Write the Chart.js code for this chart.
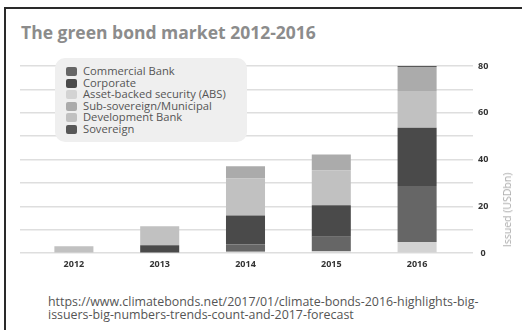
<!DOCTYPE html>
<html>
<head>
<meta charset="utf-8">
<script src="https://cdn.jsdelivr.net/npm/chart.js@4.4.1/dist/chart.umd.min.js"></script>
<style>
    body { margin: 0; width: 522px; height: 330px; background: #fff; overflow: hidden; font-family: "Open Sans", sans-serif; position: relative; }
    .frame { position: absolute; left: 4px; top: 7px; width: 600px; height: 400px; border-left: 2px solid #2a2a2a; border-top: 2px solid #2a2a2a; }
    .title { position: absolute; left: 21px; top: 20px; font-size: 17.5px; font-weight: 700; color: #8c8c8c; white-space: nowrap; }
    #chart-box { position: absolute; left: 0; top: 45px; width: 522px; height: 235px; }
    .legend { position: absolute; left: 55px; top: 58px; width: 192px; height: 84px; background: #efefef; border-radius: 10px; padding: 7px 0 0 11px; box-sizing: border-box; }
    .legend-item { height: 11.6px; line-height: 11.6px; font-size: 11.2px; color: #555; white-space: nowrap; }
    .legend-item span { display: inline-block; width: 11px; height: 9px; border-radius: 2px; margin-right: 6px; vertical-align: -1px; }
    .axis-title { position: absolute; left: 507px; top: 210px; transform: translate(-50%, -50%) rotate(-90deg); font-size: 10.5px; color: #a8a8a8; white-space: nowrap; }
    .source { position: absolute; left: 48px; top: 296px; font-size: 12.4px; line-height: 12.5px; color: #555; white-space: nowrap; }
</style>
</head>
<body>
<div class="frame"></div>
<div class="title">The green bond market 2012-2016</div>
<div id="chart-box"><canvas id="myChart"></canvas></div>
<div class="legend" id="legend"></div>
<div class="axis-title">Issued (USDbn)</div>
<div class="source">https://www.climatebonds.net/2017/01/climate-bonds-2016-highlights-big-<br>issuers-big-numbers-trends-count-and-2017-forecast</div>
<script>
// Dados (USD bn)
const years = ['2012', '2013', '2014', '2015', '2016'];
const assetBacked = [0, 0, 0.6, 0.8, 4.8];
const commercialBank = [0, 0, 3.1, 6.2, 23.9];
const corporate = [0, 3.4, 12.4, 13.5, 24.9];
const developmentBank = [3.0, 8.1, 15.9, 15.0, 15.7];
const subSovereign = [0, 0, 5.2, 6.7, 10.3];
const sovereign = [0, 0, 0, 0, 0.7];
const yTickLabels = ['0', '20', '40', '60', '80'];

// Ordem de empilhamento (de baixo para cima)
const series = [
    { label: 'Asset-backed security (ABS)', data: assetBacked, color: '#d3d3d3' },
    { label: 'Commercial Bank', data: commercialBank, color: '#666666' },
    { label: 'Corporate', data: corporate, color: '#4a4a4a' },
    { label: 'Development Bank', data: developmentBank, color: '#c1c1c1' },
    { label: 'Sub-sovereign/Municipal', data: subSovereign, color: '#ababab' },
    { label: 'Sovereign', data: sovereign, color: '#585858' }
];

// Ordem da legenda
const legendOrder = ['Commercial Bank', 'Corporate', 'Asset-backed security (ABS)', 'Sub-sovereign/Municipal', 'Development Bank', 'Sovereign'];

const legend = document.getElementById('legend');
legendOrder.forEach(name => {
    const s = series.find(x => x.label === name);
    const item = document.createElement('div');
    item.className = 'legend-item';
    item.innerHTML = '<span style="background:' + s.color + '"></span>' + name;
    legend.appendChild(item);
});

const gridColor = '#dedede';
const tickFont = { family: 'Open Sans', size: 9, weight: 'bold' };

const ctx = document.getElementById('myChart').getContext('2d');
const myChart = new Chart(ctx, {
    type: 'bar',
    data: {
        labels: years,
        datasets: series.map(s => ({
            label: s.label,
            data: s.data,
            backgroundColor: s.color,
            borderWidth: 0,
            categoryPercentage: 1,
            barPercentage: 0.455
        }))
    },
    options: {
        responsive: true,
        maintainAspectRatio: false,
        animation: false,
        layout: { padding: { left: 20, right: 0, top: 21, bottom: 4 } },
        plugins: { legend: { display: false }, tooltip: { enabled: false } },
        scales: {
            x: {
                stacked: true,
                grid: { display: false, drawTicks: false },
                border: { display: false },
                ticks: { color: '#333', font: tickFont, padding: 6 }
            },
            yLeft: {
                position: 'left',
                stacked: true,
                min: 0,
                max: 80,
                grid: { drawOnChartArea: false, color: gridColor, lineWidth: 1.5, tickLength: 11 },
                border: { display: false },
                ticks: { display: false, stepSize: 10 },
                afterFit: scale => { scale.width = 11; }
            },
            y: {
                position: 'right',
                stacked: true,
                min: 0,
                max: 80,
                grid: { color: gridColor, lineWidth: 1.5, tickLength: 13 },
                border: { display: false },
                ticks: {
                    stepSize: 10,
                    color: '#333',
                    font: tickFont,
                    padding: 5,
                    crossAlign: 'center',
                    callback: v => (v % 20 === 0 ? yTickLabels[v / 20] : '')
                },
                afterFit: scale => { scale.width = 62; }
            }
        }
    }
});
</script>
</body>
</html>
